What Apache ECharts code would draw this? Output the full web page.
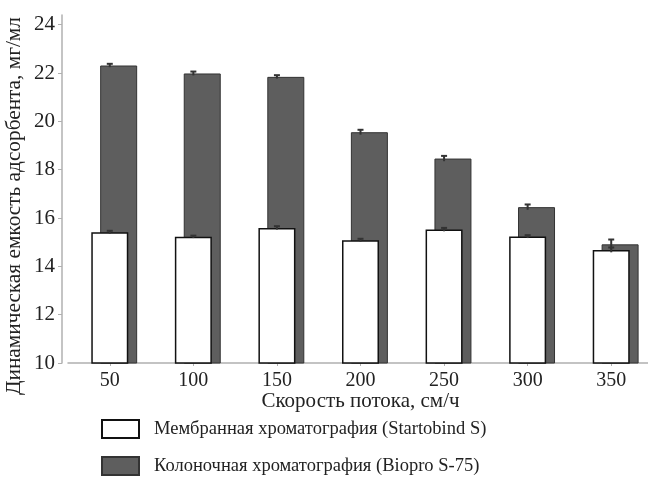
<!DOCTYPE html>
<html>
<head>
<meta charset="utf-8">
<script src="https://cdn.jsdelivr.net/npm/echarts@6/dist/echarts.min.js"></script>
<style>html,body{margin:0;padding:0;background:#fff}#c{width:648px;height:477px}</style>
</head>
<body>
<div id="c"></div>
<script>
var categories = ['50', '100', '150', '200', '250', '300', '350'];
var membraneValues = [15.41, 15.22, 15.59, 15.08, 15.52, 15.23, 14.68];
var membraneErrors = [0.06, 0.05, 0.07, 0.06, 0.07, 0.06, 0.1];
var columnValues = [22.31, 21.98, 21.84, 19.55, 18.46, 16.45, 14.91];
var columnErrors = [0.07, 0.08, 0.07, 0.1, 0.11, 0.11, 0.2];
var yTicks = [10, 12, 14, 16, 18, 20, 22, 24];

var membraneName = 'Мембранная хроматография (Startobind S)';
var columnName = 'Колоночная хроматография (Biopro S-75)';
var FONT = 'Liberation Serif';

function errData(vals, errs) {
  return vals.map(function (v, i) { return [i, v, errs[i]]; });
}
function renderErr(params, api) {
  var i = api.value(0), v = api.value(1), e = api.value(2);
  var top = api.coord([i, v + e]);
  var bot = api.coord([i, v - e]);
  return {
    type: 'group',
    children: [
      { type: 'line', shape: { x1: top[0], y1: top[1], x2: bot[0], y2: bot[1] }, style: { stroke: '#333', lineWidth: 2 } },
      { type: 'line', shape: { x1: top[0] - 3, y1: top[1], x2: top[0] + 3, y2: top[1] }, style: { stroke: '#333', lineWidth: 2 } }
    ]
  };
}
function legendCfg(name, top) {
  return {
    data: [name],
    orient: 'vertical',
    left: 101, top: top,
    padding: 0,
    itemWidth: 37, itemHeight: 18,
    icon: 'rect',
    textStyle: { fontFamily: FONT, fontSize: 18.5, color: '#222', padding: [0, 0, 0, 10] }
  };
}

var chart = echarts.init(document.getElementById('c'), null, { renderer: 'canvas' });
chart.setOption({
  animation: false,
  backgroundColor: '#fff',
  grid: { left: 68, right: -5, top: 15, bottom: 114, containLabel: false, outerBoundsMode: 'none' },
  legend: [legendCfg(membraneName, 419), legendCfg(columnName, 456)],
  xAxis: {
    type: 'category',
    data: categories,
    name: 'Скорость потока, см/ч',
    nameLocation: 'middle',
    nameGap: 28,
    nameMoveOverlap: false,
    nameTextStyle: { fontFamily: FONT, fontSize: 21, color: '#222' },
    axisLine: { lineStyle: { color: '#b0b0b0', width: 1.5 } },
    axisTick: { show: true, alignWithLabel: true, length: 3, lineStyle: { color: '#b0b0b0' } },
    axisLabel: { fontFamily: FONT, fontSize: 20, color: '#222', margin: 8 }
  },
  yAxis: {
    type: 'value',
    min: 10, max: 24.4,
    offset: 6,
    name: 'Динамическая емкость адсорбента, мг/мл',
    nameLocation: 'middle',
    nameGap: 37,
    nameMoveOverlap: false,
    nameTextStyle: { fontFamily: FONT, fontSize: 21.3, color: '#222', padding: [0, 34, 0, 0] },
    axisLine: { show: true, lineStyle: { color: '#b0b0b0', width: 1.5 } },
    axisTick: { show: true, length: 4, customValues: yTicks, lineStyle: { color: '#b0b0b0' } },
    axisLabel: { fontFamily: FONT, fontSize: 21, color: '#222', margin: 7, customValues: yTicks },
    splitLine: { show: false }
  },
  series: [
    { name: '_pad', type: 'bar', barWidth: 37, data: categories.map(function () { return 0; }), itemStyle: { color: 'rgba(0,0,0,0)' }, silent: true },
    {
      name: membraneName, type: 'bar', barWidth: 37, z: 4,
      data: membraneValues,
      itemStyle: { color: '#ffffff', borderColor: '#111', borderWidth: 1.5 }
    },
    {
      name: columnName, type: 'bar', barWidth: 37, barGap: '-76%', z: 2,
      data: columnValues,
      itemStyle: { color: '#5e5e5e', borderColor: '#333', borderWidth: 1 }
    },
    { type: 'custom', z: 3, renderItem: renderErr, encode: { x: 0, y: 1 }, data: errData(columnValues, columnErrors), silent: true },
    { type: 'custom', z: 6, renderItem: renderErr, encode: { x: 0, y: 1 }, data: errData(membraneValues, membraneErrors), silent: true }
  ]
});
</script>
</body>
</html>
